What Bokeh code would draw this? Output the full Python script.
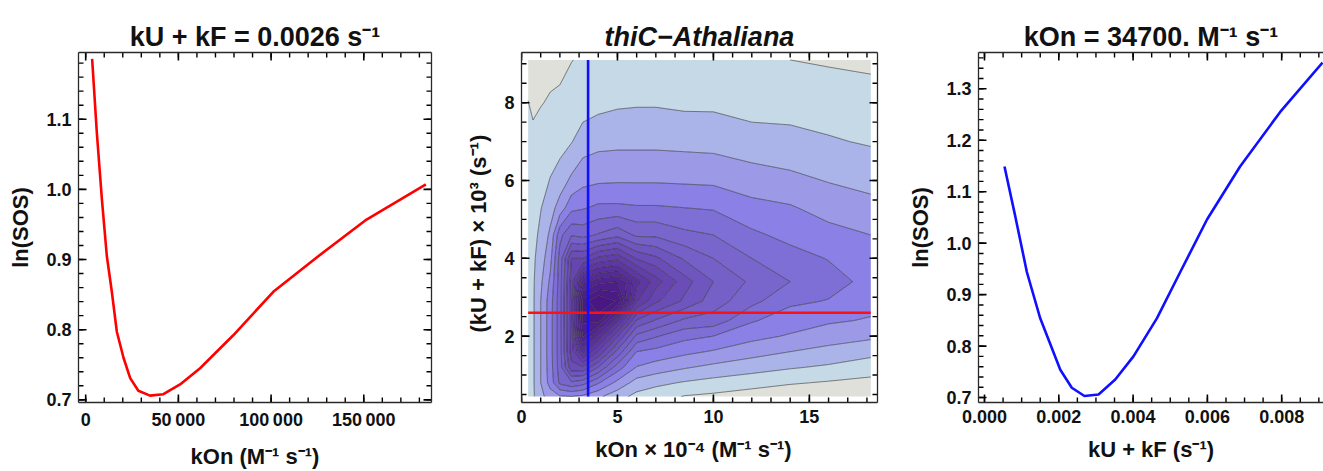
import numpy as np
from bokeh.plotting import figure
from bokeh.layouts import row
from bokeh.models import LinearAxis, FixedTicker, Range1d, NumeralTickFormatter
from bokeh.embed import file_html
from bokeh.resources import INLINE

# ---------------- data ----------------
# left panel: ln(SOS) vs kOn at kU+kF = 0.0026
kon_left = [3470, 6030, 8730, 11400, 14100, 16800, 20400, 24000, 28400, 34700,
            41900, 50900, 61700, 79600, 101200, 124600, 151500, 183500]
lnsos_left = [1.186, 1.080, 0.986, 0.905, 0.854, 0.797, 0.760, 0.731, 0.713, 0.706,
              0.708, 0.722, 0.745, 0.792, 0.854, 0.903, 0.957, 1.007]

# right panel: ln(SOS) vs kU+kF at kOn = 34700
kukf_right = [0.000538, 0.000826, 0.00114, 0.0015, 0.00204, 0.00235, 0.00269, 0.00307,
              0.00352, 0.00401, 0.00464, 0.00527, 0.00599, 0.00688, 0.00796, 0.0091]
lnsos_right = [1.149, 1.053, 0.944, 0.854, 0.754, 0.719, 0.703, 0.706,
               0.735, 0.780, 0.854, 0.944, 1.046, 1.149, 1.255, 1.351]

kon_best = 34700.0
kukf_best = 0.0026

# middle panel: contour level (band index) on a grid
kon_grid = [3470, 6000, 10000, 15000, 20000, 26000, 32000, 40000, 50000, 60000,
            70000, 85000, 100000, 120000, 140000, 160000, 182000]
kukf_grid = [0.00045, 0.0008, 0.0012, 0.0016, 0.0020, 0.0024, 0.0029, 0.0034,
             0.0040, 0.0046, 0.0053, 0.0060, 0.0070, 0.0080, 0.0091]
level_rows = [
    [17.4, 17.15, 16.3, 15.5, 15.1, 15.0, 15.2, 15.8, 16.6, 17.3, 17.6, 18.05, 18.2, 18.5, 18.75, 18.9, 19.0],
    [17.45, 17.15, 16.0, 14.6, 12.8, 12.2, 12.6, 13.9, 15.3, 16.4, 16.75, 17.1, 17.35, 17.6, 17.9, 18.1, 18.3],
    [17.5, 17.15, 16.0, 14.45, 12.5, 9.3, 9.1, 11.0, 13.5, 15.05, 15.45, 15.9, 16.25, 16.6, 16.9, 17.15, 17.5],
    [17.5, 17.15, 16.0, 14.4, 12.45, 8.5, 5.6, 8.0, 11.3, 14.0, 14.3, 14.75, 15.1, 15.6, 16.0, 16.3, 16.7],
    [17.5, 17.15, 16.0, 14.4, 12.45, 8.45, 2.9, 5.15, 8.9, 12.25, 12.9, 13.7, 14.0, 14.7, 15.1, 15.55, 15.8],
    [17.5, 17.15, 16.0, 14.4, 12.45, 8.4, 1.8, 1.6, 5.6, 10.1, 11.1, 12.2, 12.4, 13.9, 14.5, 14.85, 15.1],
    [17.5, 17.15, 16.0, 14.45, 12.45, 8.4, 1.6, 0.0, 1.1, 6.9, 8.8, 10.2, 11.5, 12.7, 13.8, 14.05, 14.6],
    [17.5, 17.15, 16.2, 14.8, 12.5, 8.5, 4.3, 3.4, 3.0, 5.6, 7.5, 9.6, 11.0, 12.2, 13.0, 13.6, 14.3],
    [17.55, 17.2, 16.5, 15.3, 12.6, 9.0, 9.0, 7.8, 7.3, 9.1, 9.8, 11.15, 12.0, 13.0, 13.6, 14.05, 14.6],
    [17.6, 17.35, 16.75, 15.8, 13.3, 12.1, 12.35, 11.9, 11.3, 12.2, 12.2, 12.75, 13.0, 13.8, 14.3, 14.65, 15.0],
    [17.65, 17.45, 17.05, 16.4, 15.6, 14.3, 14.1, 13.8, 13.8, 13.9, 13.9, 14.0, 14.1, 14.7, 14.9, 15.4, 15.7],
    [17.7, 17.55, 17.4, 16.95, 16.5, 15.8, 15.3, 15.15, 15.1, 15.1, 15.1, 15.15, 15.2, 15.5, 15.75, 16.05, 16.3],
    [17.8, 17.75, 17.6, 17.5, 17.4, 17.05, 16.5, 16.3, 16.25, 16.25, 16.25, 16.3, 16.35, 16.6, 16.7, 16.9, 17.1],
    [17.98, 18.2, 18.05, 17.9, 17.75, 17.7, 17.5, 17.3, 17.15, 17.1, 17.1, 17.2, 17.2, 17.4, 17.4, 17.5, 17.6],
    [18.4, 18.5, 18.4, 18.3, 18.35, 18.02, 17.9, 17.85, 17.75, 17.7, 17.7, 17.7, 17.75, 17.9, 18.0, 18.1, 18.2],
]
contour_levels = [-1.0] + list(range(1, 19)) + [25.0]
band_colors = ["#491683", "#4b1a86", "#4e1f8a", "#51248f", "#552a95", "#59309b",
               "#5d37a2", "#623ea9", "#6645b0", "#6b4db7", "#6f55be", "#7460c6",
               "#7966cd", "#7e6fd6", "#8a80e5", "#9c9ae6", "#abb4e8", "#c5d9e6", "#e0e0db"]

# ---------------- styling helpers ----------------
FONT = "Liberation Sans"
INK = "#111111"
FRAME = "#2a2a2a"
FIG_H = 471
B_TOP_SIDE, B_TOP_MID, B_BOTTOM = 52, 50, 66


def style_axis(ax, major, minor, show_labels=True, label=None, fmt=None, overrides=None,
               label_standoff=10):
    ax.ticker = FixedTicker(ticks=major, minor_ticks=minor)
    ax.major_tick_in = 0
    ax.major_tick_out = 0
    ax.minor_tick_in = 0
    ax.minor_tick_out = 0
    ax.major_tick_line_color = None
    ax.minor_tick_line_color = None
    ax.axis_line_color = FRAME
    ax.axis_line_width = 1.3
    if fmt is not None:
        ax.formatter = fmt
    if overrides is not None:
        ax.major_label_overrides = overrides
    if show_labels:
        ax.major_label_text_font = FONT
        ax.major_label_text_font_style = "bold"
        ax.major_label_text_font_size = "18px"
        ax.major_label_text_color = INK
        ax.major_label_standoff = 7
    else:
        ax.major_label_text_font_size = "1px"
        ax.major_label_text_color = None
        ax.major_label_standoff = 0
    if label is not None:
        ax.axis_label = label
        ax.axis_label_text_font = FONT
        ax.axis_label_text_font_style = "bold"
        ax.axis_label_text_font_size = "22px"
        ax.axis_label_text_color = INK
        ax.axis_label_standoff = label_standoff


def make_fig(width, xr, yr, bl, br, bt, title, title_style="bold"):
    p = figure(width=width, height=FIG_H, x_range=xr, y_range=yr,
               output_backend="svg", toolbar_location=None,
               min_border_left=bl, min_border_right=br, min_border_top=bt,
               min_border_bottom=B_BOTTOM)
    p.outline_line_color = None
    p.grid.visible = False
    p.background_fill_color = "white"
    p.border_fill_color = "white"
    p.title.text = title
    p.title.text_font = FONT
    p.title.text_font_style = title_style
    p.title.text_font_size = "27px"
    p.title.text_color = INK
    p.title.align = "center"
    p.title.standoff = 2
    return p


def add_ticks(p, frame_w, frame_h, xmaj, xmin, ymaj, ymin, sides=("b", "t", "l", "r")):
    xr, yr = p.x_range, p.y_range
    dx = (xr.end - xr.start) / frame_w
    dy = (yr.end - yr.start) / frame_h
    for ticks, length, width in ((xmaj, 8, 1.6), (xmin, 5, 1.4)):
        t = [v for v in ticks if xr.start <= v <= xr.end]
        if "b" in sides:
            p.segment(x0=t, y0=[yr.start] * len(t), x1=t, y1=[yr.start + length * dy] * len(t),
                      line_color="#000000", line_width=width)
        if "t" in sides:
            p.segment(x0=t, y0=[yr.end] * len(t), x1=t, y1=[yr.end - length * dy] * len(t),
                      line_color="#000000", line_width=width)
    for ticks, length, width in ((ymaj, 8, 1.6), (ymin, 5, 1.4)):
        t = [v for v in ticks if yr.start <= v <= yr.end]
        if "l" in sides:
            p.segment(x0=[xr.start] * len(t), y0=t, x1=[xr.start + length * dx] * len(t), y1=t,
                      line_color="#000000", line_width=width)
        if "r" in sides:
            p.segment(x0=[xr.end] * len(t), y0=t, x1=[xr.end - length * dx] * len(t), y1=t,
                      line_color="#000000", line_width=width)


def rng(a, b, step):
    n = int(round((b - a) / step))
    return [round(a + i * step, 6) for i in range(n + 1)]


sup_m1 = "\u207b\u00b9"

# ---------------- left panel ----------------
W1, L1, R1 = 458, 78, 27
p1 = make_fig(W1, Range1d(-3880, 186530), Range1d(0.6962, 1.1951), L1, R1, B_TOP_SIDE,
              "kU + kF = 0.0026 s" + sup_m1)
x1_major = [0, 50000, 100000, 150000]
x1_minor = rng(0, 180000, 10000)
y1_major = rng(0.7, 1.1, 0.1)
y1_minor = rng(0.7, 1.18, 0.02)
add_ticks(p1, W1 - L1 - R1, FIG_H - B_TOP_SIDE - B_BOTTOM, x1_major, x1_minor, y1_major, y1_minor)
p1.line(kon_left, lnsos_left, line_color="#ff0000", line_width=2.6)
x1_over = {0: "0", 50000: "50\u2009000", 100000: "100\u2009000", 150000: "150\u2009000"}
style_axis(p1.xaxis[0], x1_major, x1_minor, label="kOn (M" + sup_m1 + " s" + sup_m1 + ")",
           overrides=x1_over, label_standoff=11)
style_axis(p1.yaxis[0], y1_major, y1_minor, label="ln(SOS)", fmt=NumeralTickFormatter(format="0.0"))
ax = LinearAxis(); p1.add_layout(ax, "above"); style_axis(ax, x1_major, x1_minor, show_labels=False)
ax = LinearAxis(); p1.add_layout(ax, "right"); style_axis(ax, y1_major, y1_minor, show_labels=False)

# ---------------- middle panel ----------------
W2, L2, R2 = 440, 63, 21
xg = np.array(kon_grid, dtype=float) * 1e-4
yg = np.array(kukf_grid, dtype=float) * 1e3
Z = np.array(level_rows, dtype=float)
p2 = make_fig(W2, Range1d(0.0, 18.55), Range1d(0.294, 9.29), L2, R2, B_TOP_MID,
              "thiC\u2212Athaliana", title_style="bold italic")
p2.contour(x=xg, y=yg, z=Z, levels=contour_levels, fill_color=band_colors,
           line_color="#222222", line_alpha=0.55, line_width=1.0)
p2.line([xg[0], xg[-1]], [kukf_best * 1e3, kukf_best * 1e3], line_color="#ff1010", line_width=2.6)
p2.line([kon_best * 1e-4, kon_best * 1e-4], [yg[0], yg[-1]], line_color="#1010ff", line_width=2.6)
x2_major = [0, 5, 10, 15]
x2_minor = rng(0, 18, 1)
y2_major = [2, 4, 6, 8]
y2_minor = rng(0.5, 9.0, 0.5)
add_ticks(p2, W2 - L2 - R2, FIG_H - B_TOP_MID - B_BOTTOM, x2_major, x2_minor, y2_major, y2_minor)
style_axis(p2.xaxis[0], x2_major, x2_minor,
           label="kOn \u00d7 10\u207b\u2074   (M" + sup_m1 + " s" + sup_m1 + ")", label_standoff=11)
style_axis(p2.yaxis[0], y2_major, y2_minor, label="(kU + kF) \u00d7 10\u00b3   (s" + sup_m1 + ")")
ax = LinearAxis(); p2.add_layout(ax, "above"); style_axis(ax, x2_major, x2_minor, show_labels=False)
ax = LinearAxis(); p2.add_layout(ax, "right"); style_axis(ax, y2_major, y2_minor, show_labels=False)

# ---------------- right panel ----------------
W3, L3, R3 = 425, 80, 0
p3 = make_fig(W3, Range1d(-0.0001615, 0.0091255), Range1d(0.6904, 1.3705), L3, R3, B_TOP_SIDE,
              "kOn = 34700. M" + sup_m1 + " s" + sup_m1)
p3.title.offset = 3
x3_major = rng(0.0, 0.008, 0.002)
x3_minor = rng(0.0, 0.009, 0.0005)
y3_major = rng(0.7, 1.3, 0.1)
y3_minor = rng(0.7, 1.36, 0.02)
add_ticks(p3, W3 - L3 - R3, FIG_H - B_TOP_SIDE - B_BOTTOM, x3_major, x3_minor, y3_major, y3_minor,
          sides=("b", "t", "l"))
p3.line(kukf_right, lnsos_right, line_color="#1010ff", line_width=2.6)
style_axis(p3.xaxis[0], x3_major, x3_minor, label="kU + kF (s" + sup_m1 + ")",
           fmt=NumeralTickFormatter(format="0.000"), label_standoff=11)
style_axis(p3.yaxis[0], y3_major, y3_minor, label="ln(SOS)", fmt=NumeralTickFormatter(format="0.0"))
ax = LinearAxis(); p3.add_layout(ax, "above"); style_axis(ax, x3_major, x3_minor, show_labels=False)

layout = row(p1, p2, p3)
open("out.html", "w").write(file_html(layout, INLINE))
